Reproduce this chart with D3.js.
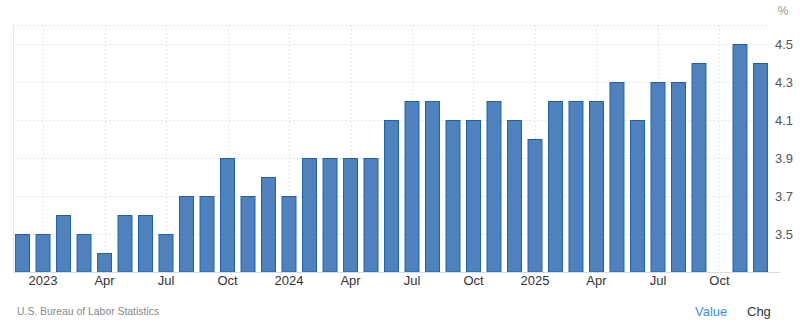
<!DOCTYPE html>
<html><head><meta charset="utf-8">
<script src="https://cdn.jsdelivr.net/npm/d3@7"></script>
<style>body{margin:0;background:#fff;}svg{display:block;font-family:Arial,"Liberation Sans",sans-serif;}</style>
</head><body>
<svg id="c" width="800" height="329"></svg>
<script>
const months = ["2022-12","2023-01","2023-02","2023-03","2023-04","2023-05","2023-06","2023-07","2023-08","2023-09","2023-10","2023-11","2023-12",
"2024-01","2024-02","2024-03","2024-04","2024-05","2024-06","2024-07","2024-08","2024-09","2024-10","2024-11","2024-12",
"2025-01","2025-02","2025-03","2025-04","2025-05","2025-06","2025-07","2025-08","2025-09","2025-10","2025-11","2025-12"];
const values = [3.5,3.5,3.6,3.5,3.4,3.6,3.6,3.5,3.7,3.7,3.9,3.7,3.8,
3.7,3.9,3.9,3.9,3.9,4.1,4.2,4.2,4.1,4.1,4.2,4.1,
4.0,4.2,4.2,4.2,4.3,4.1,4.3,4.3,4.4,null,4.5,4.4];
const yTicks = [3.5,3.7,3.9,4.1,4.3,4.5];
const xTickMonths = ["2023-01","2023-04","2023-07","2023-10","2024-01","2024-04","2024-07","2024-10","2025-01","2025-04","2025-07","2025-10"];
const xTickLabels = ["2023","Apr","Jul","Oct","2024","Apr","Jul","Oct","2025","Apr","Jul","Oct"];
const source = "U.S. Bureau of Labor Statistics";

const svg = d3.select("#c");
const L = 13, R = 770, T = 25, B = 272;
const x = d3.scaleBand().domain(months).range([L, R]).paddingInner(0.27).paddingOuter(0.1);
const y = d3.scaleLinear().domain([3.3, 4.6]).range([B, T]);

// horizontal grid
const gy = svg.append("g");
gy.selectAll("line").data(yTicks.concat([4.6])).join("line")
  .attr("x1", L).attr("x2", R).attr("y1", d => Math.round(y(d)) + 0.5).attr("y2", d => Math.round(y(d)) + 0.5)
  .attr("stroke", "#e6e6e6").attr("stroke-dasharray", "2,2");
// vertical grid
const gx = svg.append("g");
gx.selectAll("line").data(xTickMonths).join("line")
  .attr("x1", d => Math.round(x(d) + x.bandwidth() / 2) + 0.5).attr("x2", d => Math.round(x(d) + x.bandwidth() / 2) + 0.5)
  .attr("y1", T).attr("y2", B)
  .attr("stroke", "#e6e6e6").attr("stroke-dasharray", "2,2");
// left axis line
svg.append("line").attr("x1", L + 0.5).attr("x2", L + 0.5).attr("y1", T).attr("y2", B).attr("stroke", "#e6e6e6");

// bars
svg.append("g").selectAll("rect").data(months.map((m, i) => ({m, v: values[i]})).filter(d => d.v != null)).join("rect")
  .attr("x", d => x(d.m) + 0.5).attr("width", x.bandwidth() - 1)
  .attr("y", d => y(d.v) + 0.5).attr("height", d => B - y(d.v) - 0.5)
  .attr("fill", "#4f81bd").attr("stroke", "#1d62b0").attr("stroke-width", 1);

// baseline
svg.append("line").attr("x1", L).attr("x2", 780).attr("y1", B + 0.5).attr("y2", B + 0.5).attr("stroke", "#dcdcdc");

// y axis labels (right)
const yAxis = d3.axisRight(y).tickValues(yTicks).tickSize(0).tickPadding(0).tickFormat(d3.format(".1f"));
const ya = svg.append("g").attr("transform", `translate(${R + 5},0)`).call(yAxis);
ya.select(".domain").remove();
ya.selectAll("text").attr("fill", "#555").attr("font-size", 13).attr("font-family", "Arial,'Liberation Sans',sans-serif");

// x axis labels
const xAxis = d3.axisBottom(x).tickValues(xTickMonths).tickSize(0).tickPadding(0)
  .tickFormat((d) => xTickLabels[xTickMonths.indexOf(d)]);
const xa = svg.append("g").attr("transform", `translate(0,${B + 2})`).call(xAxis);
xa.select(".domain").remove();
xa.selectAll("text").attr("fill", "#333").attr("font-size", 13).attr("dy", "0.85em").attr("font-family", "Arial,'Liberation Sans',sans-serif");

svg.append("text").attr("x", 783).attr("y", 15).attr("text-anchor", "middle").attr("fill", "#999").attr("font-size", 12).text("%");

svg.append("text").attr("x", 17).attr("y", 315).attr("fill", "#888").attr("font-size", 10.4).text(source);
svg.append("text").attr("x", 695).attr("y", 316).attr("fill", "#3b8ee8").attr("font-size", 13).text("Value");
svg.append("text").attr("x", 747).attr("y", 316).attr("fill", "#333").attr("font-size", 13).text("Chg");
</script>
</body></html>
